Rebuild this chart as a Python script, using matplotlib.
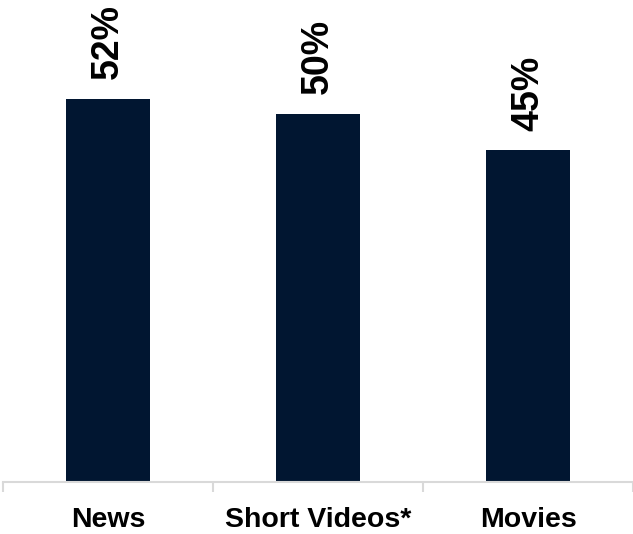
import matplotlib.pyplot as plt

categories = ["News", "Short Videos*", "Movies"]
values = [52, 50, 45]
labels = ["52%", "50%", "45%"]

plt.rcParams['font.family'] = ['Liberation Sans', 'DejaVu Sans']

fig = plt.figure(figsize=(6.33, 5.34), dpi=100)
ax = fig.add_axes([0.005, 0.097, 0.995, 0.903])

x = range(len(categories))
bars = ax.bar(x, values, width=0.4, color='#011631')

# rotated value labels above each bar
for b, lab in zip(bars, labels):
    ax.annotate(lab, (b.get_x() + b.get_width() / 2, b.get_height()),
                xytext=(0, 14), textcoords='offset points',
                rotation=90, ha='center', va='bottom',
                fontsize=27, fontweight='bold')

ax.set_xlim(-0.5, 2.5)
ax.set_ylim(0, 65.4)

for s in ['top', 'right', 'left']:
    ax.spines[s].set_visible(False)
ax.spines['bottom'].set_color('#D9D9D9')
ax.spines['bottom'].set_linewidth(1.5)

ax.set_yticks([])
ax.set_xticks(list(x))
ax.set_xticklabels(categories, fontsize=20.5, fontweight='bold')
ax.tick_params(axis='x', which='major', length=0, pad=18)
ax.set_xticks([-0.5, 0.5, 1.5, 2.5], minor=True)
ax.tick_params(axis='x', which='minor', length=7, width=1.5,
               color='#D9D9D9', direction='out')

fig.savefig('out.png', dpi=100)
